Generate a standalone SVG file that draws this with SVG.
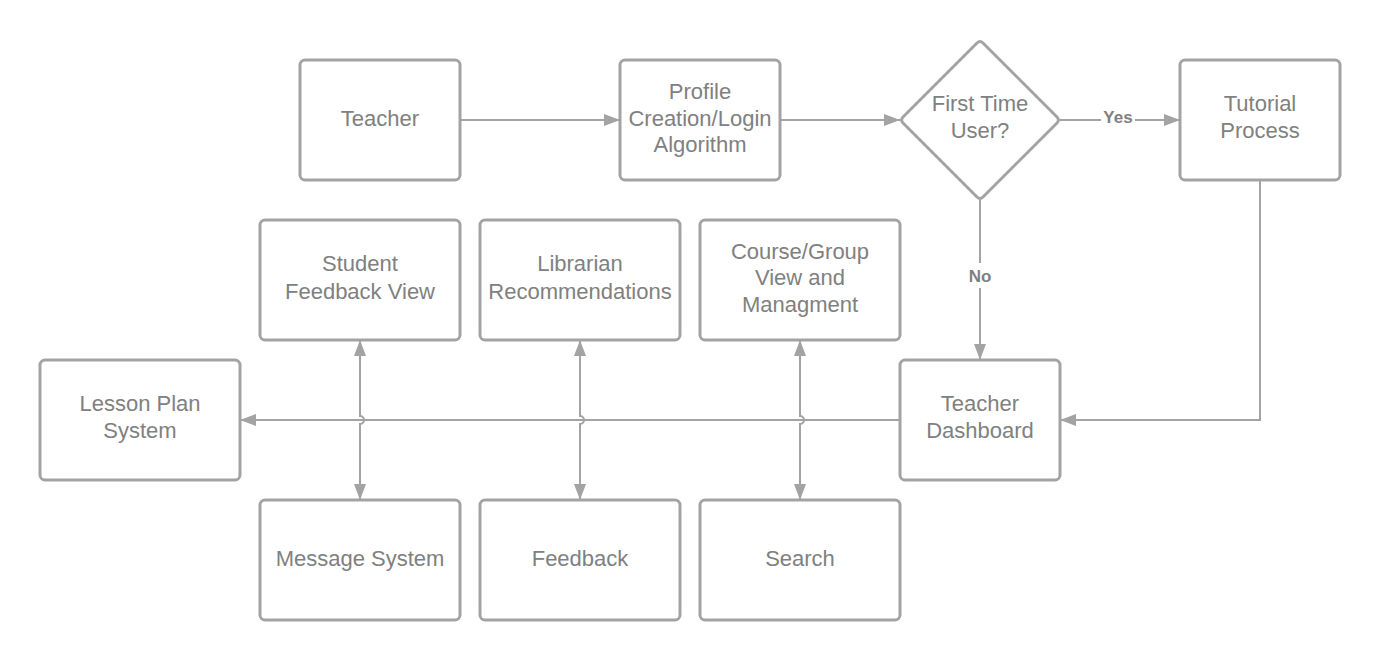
<svg xmlns="http://www.w3.org/2000/svg" width="1380" height="660" viewBox="0 0 1380 660">
<style>
.box{fill:#fff;stroke:#a3a3a3;stroke-width:3}
.t{font-family:"Liberation Sans",Arial,sans-serif;font-size:22px;fill:#808080;text-anchor:middle}
.c{fill:none;stroke:#a3a3a3;stroke-width:2}
.lb{font-family:"Liberation Sans",Arial,sans-serif;font-size:17px;font-weight:bold;fill:#808080;text-anchor:middle}
</style>
<defs>
<marker id="ah" viewBox="0 0 16 12" refX="16" refY="6" markerWidth="16" markerHeight="12" markerUnits="userSpaceOnUse" orient="auto-start-reverse">
<path d="M0,0 L16,6 L0,12 Z" fill="#a3a3a3"/>
</marker>
</defs>
<rect width="1380" height="660" fill="#fff"/>
<g id="connectors">
<path class="c" d="M460,120 H620" marker-end="url(#ah)"/>
<path class="c" d="M780,120 H900" marker-end="url(#ah)"/>
<path class="c" d="M1060,120 H1101 M1135,120 H1180" marker-end="url(#ah)"/>
<text class="lb" x="1118" y="123">Yes</text>
<path class="c" d="M980,200 V263 M980,288 V360" marker-end="url(#ah)"/>
<text class="lb" x="980" y="282">No</text>
<path class="c" d="M1260,180 V420 H1060" marker-end="url(#ah)"/>
<path class="c" d="M900,420 H240" marker-end="url(#ah)"/>
<path class="c" d="M360,340 V416 A4,4 0 0 1 360,424 V500" marker-start="url(#ah)" marker-end="url(#ah)"/>
<path class="c" d="M580,340 V416 A4,4 0 0 1 580,424 V500" marker-start="url(#ah)" marker-end="url(#ah)"/>
<path class="c" d="M800,340 V416 A4,4 0 0 1 800,424 V500" marker-start="url(#ah)" marker-end="url(#ah)"/>
</g>
<g id="teacher"><rect class="box" x="300" y="60" width="160" height="120" rx="5"/><text class="t" x="380" y="126">Teacher</text></g>
<g id="profile"><rect class="box" x="620" y="60" width="160" height="120" rx="5"/><text class="t" x="700" y="99">Profile</text><text class="t" x="700" y="126">Creation/Login</text><text class="t" x="700" y="152">Algorithm</text></g>
<g id="first-time"><path class="box" d="M977,43 Q980,40 983,43 L1057,117 Q1060,120 1057,123 L983,197 Q980,200 977,197 L903,123 Q900,120 903,117 Z"/><text class="t" x="980" y="111">First Time</text><text class="t" x="980" y="138">User?</text></g>
<g id="tutorial"><rect class="box" x="1180" y="60" width="160" height="120" rx="5"/><text class="t" x="1260" y="111">Tutorial</text><text class="t" x="1260" y="138">Process</text></g>
<g id="student-feedback"><rect class="box" x="260" y="220" width="200" height="120" rx="5"/><text class="t" x="360" y="271">Student</text><text class="t" x="360" y="299">Feedback View</text></g>
<g id="librarian"><rect class="box" x="480" y="220" width="200" height="120" rx="5"/><text class="t" x="580" y="271">Librarian</text><text class="t" x="580" y="299">Recommendations</text></g>
<g id="course"><rect class="box" x="700" y="220" width="200" height="120" rx="5"/><text class="t" x="800" y="259">Course/Group</text><text class="t" x="800" y="285">View and</text><text class="t" x="800" y="312">Managment</text></g>
<g id="lesson-plan"><rect class="box" x="40" y="360" width="200" height="120" rx="5"/><text class="t" x="140" y="411">Lesson Plan</text><text class="t" x="140" y="438">System</text></g>
<g id="dashboard"><rect class="box" x="900" y="360" width="160" height="120" rx="5"/><text class="t" x="980" y="411">Teacher</text><text class="t" x="980" y="438">Dashboard</text></g>
<g id="message"><rect class="box" x="260" y="500" width="200" height="120" rx="5"/><text class="t" x="360" y="566">Message System</text></g>
<g id="feedback"><rect class="box" x="480" y="500" width="200" height="120" rx="5"/><text class="t" x="580" y="566">Feedback</text></g>
<g id="search"><rect class="box" x="700" y="500" width="200" height="120" rx="5"/><text class="t" x="800" y="566">Search</text></g>
</svg>
